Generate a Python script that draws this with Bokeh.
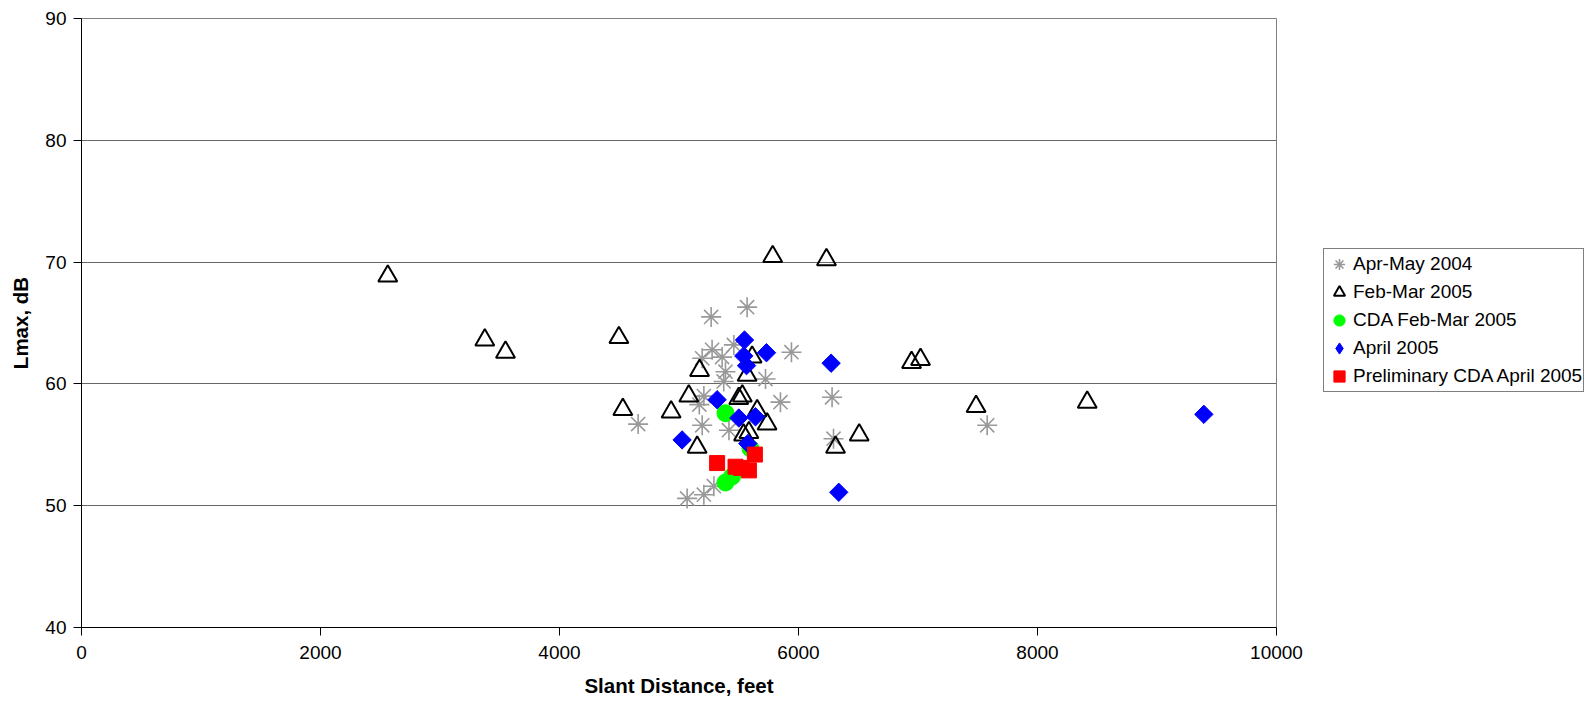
from bokeh.plotting import figure
from bokeh.models import Range1d, FixedTicker, Legend, LegendItem
from bokeh.embed import file_html
from bokeh.resources import INLINE
import numpy as np

# Apr-May 2004 (gray asterisks)
apr_may_2004_x = [4658, 5269, 5570, 5941, 5277, 5361, 5194, 5459, 5389, 5374, 5724, 5849,
                  5170, 5194, 5418, 6281, 6293, 5068, 5208, 5292, 7579, 5208]
apr_may_2004_y = [56.7, 65.5, 66.3, 62.6, 62.8, 62.2, 62.1, 63.2, 61.0, 60.2, 60.4, 58.5,
                  58.3, 56.6, 56.2, 58.9, 55.5, 50.6, 50.9, 51.6, 56.6, 59.0]

# Feb-Mar 2005 (open triangles)
feb_mar_2005_x = [2563, 3375, 3548, 4497, 4530, 4934, 5082, 5172, 5152, 5570, 5612, 5500, 5530,
                  5654, 5737, 5585, 5540, 6310, 6508, 5784, 6234, 6946, 7021, 7486, 8416]
feb_mar_2005_y = [68.85, 63.6, 62.6, 63.8, 57.9, 57.7, 59.0, 61.1, 54.8, 60.7, 62.2, 58.8, 59.0,
                  57.8, 56.7, 56.0, 55.8, 54.8, 55.8, 70.45, 70.2, 61.75, 62.0, 58.15, 58.5]

# CDA Feb-Mar 2005 (green circles)
cda_feb_mar_2005_x = [5389, 5598, 5389, 5444]
cda_feb_mar_2005_y = [57.6, 54.7, 51.9, 52.4]

# April 2005 (blue diamonds)
april_2005_x = [5548, 5732, 5542, 5565, 6273, 5319, 5501, 5640, 5026, 5576, 6337, 9392]
april_2005_y = [63.6, 62.56, 62.3, 61.5, 61.7, 58.7, 57.2, 57.3, 55.4, 55.1, 51.1, 57.5]

# Preliminary CDA April 2005 (red squares)
prelim_cda_april_2005_x = [5319, 5473, 5520, 5585, 5635]
prelim_cda_april_2005_y = [53.5, 53.2, 53.1, 52.9, 54.2]

x_ticks = [0, 2000, 4000, 6000, 8000, 10000]
y_ticks = [40, 50, 60, 70, 80, 90]

FONT = "Liberation Sans"

p = figure(output_backend="svg", toolbar_location=None,
           frame_width=1195, frame_height=609,
           min_border_left=81, min_border_top=18, min_border_right=311, min_border_bottom=77,
           x_range=Range1d(0, 10000), y_range=Range1d(40, 90))
p.background_fill_color = "white"
p.border_fill_color = "white"
p.outline_line_color = "#808080"
p.outline_line_width = 1

p.xgrid.grid_line_color = None
p.ygrid.grid_line_color = "#666666"
p.ygrid.grid_line_width = 1

for ax in (p.xaxis[0], p.yaxis[0]):
    ax.axis_line_color = "black"
    ax.axis_line_width = 1
    ax.major_tick_line_color = "black"
    ax.major_tick_in = 0
    ax.major_tick_out = 8
    ax.minor_tick_line_color = None
    ax.major_label_text_font = FONT
    ax.major_label_text_font_size = "19px"
    ax.major_label_text_color = "black"
    ax.axis_label_text_font = FONT
    ax.axis_label_text_font_size = "20.5px"
    ax.axis_label_text_font_style = "bold"
    ax.axis_label_text_color = "black"

p.xaxis[0].ticker = FixedTicker(ticks=x_ticks)
p.yaxis[0].ticker = FixedTicker(ticks=y_ticks)
p.xaxis[0].axis_label = "Slant Distance, feet"
p.yaxis[0].axis_label = "Lmax, dB"
p.xaxis[0].major_label_standoff = 10
p.xaxis[0].axis_label_standoff = 12
p.yaxis[0].major_label_standoff = 7
p.yaxis[0].axis_label_standoff = 10

r1 = p.scatter(apr_may_2004_x, apr_may_2004_y, marker="asterisk", size=20,
               line_color="#999999", line_width=1.6)
r2 = p.scatter(feb_mar_2005_x, feb_mar_2005_y, marker="triangle", size=19,
               line_color="black", line_width=2, fill_alpha=0)
r3 = p.scatter(cda_feb_mar_2005_x, cda_feb_mar_2005_y, marker="circle", size=17,
               fill_color="#00ff00", line_color="#00ff00")
r4 = p.scatter(april_2005_x, april_2005_y, marker="square", size=13, angle=np.pi / 4,
               fill_color="#0000ff", line_color="#0000ff")
r5 = p.scatter(prelim_cda_april_2005_x, prelim_cda_april_2005_y, marker="square", size=15,
               fill_color="#ff0000", line_color="#ff0000")
# legend-only glyph for the diamond symbol (no data drawn)
r4_key = p.scatter([np.nan], [np.nan], marker="diamond", size=13,
                   fill_color="#0000ff", line_color="#0000ff")

legend = Legend(items=[
    LegendItem(label="Apr-May 2004", renderers=[r1]),
    LegendItem(label="Feb-Mar 2005", renderers=[r2]),
    LegendItem(label="CDA Feb-Mar 2005", renderers=[r3]),
    LegendItem(label="April 2005", renderers=[r4_key]),
    LegendItem(label="Preliminary CDA April 2005", renderers=[r5]),
], location=(47, 235))
legend.label_text_font = FONT
legend.label_text_font_size = "19px"
legend.label_text_color = "black"
legend.border_line_color = "black"
legend.border_line_width = 1
legend.background_fill_color = "white"
legend.background_fill_alpha = 1
legend.padding = 1
legend.margin = 0
legend.spacing = 0
legend.glyph_width = 28
legend.glyph_height = 28
legend.label_height = 28
legend.label_standoff = 0
p.add_layout(legend, "right")

open("out.html", "w").write(file_html(p, INLINE))
